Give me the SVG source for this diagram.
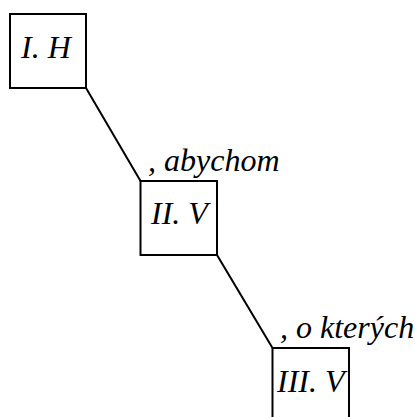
<svg xmlns="http://www.w3.org/2000/svg" width="415" height="417" viewBox="0 0 415 417">
<style>
.box{fill:#fff;stroke:#000;stroke-width:2}
.t{font-family:"Liberation Serif","Times New Roman",serif;font-style:italic;font-size:32px;fill:#000}
.c{stroke:#000;stroke-width:2;fill:none}
</style>
<rect width="415" height="417" fill="#fff"/>
<g id="connectors">
<line class="c" x1="86" y1="88" x2="140.5" y2="181"/>
<line class="c" x1="217" y1="255" x2="272.5" y2="348"/>
</g>
<g id="n1">
<rect class="box" x="10" y="14" width="76" height="74"/>
<text class="t" x="21" y="58">I. H</text>
</g>
<g id="l1"><text class="t" x="148" y="171">, abychom</text></g>
<g id="n2">
<rect class="box" x="140.5" y="181" width="76.5" height="74"/>
<text class="t" x="151" y="224">II. V</text>
</g>
<g id="l2"><text class="t" x="280" y="338">, o kterých</text></g>
<g id="n3">
<rect class="box" x="272.5" y="348" width="76.5" height="74"/>
<text class="t" x="277" y="392">III. V</text>
</g>
</svg>
